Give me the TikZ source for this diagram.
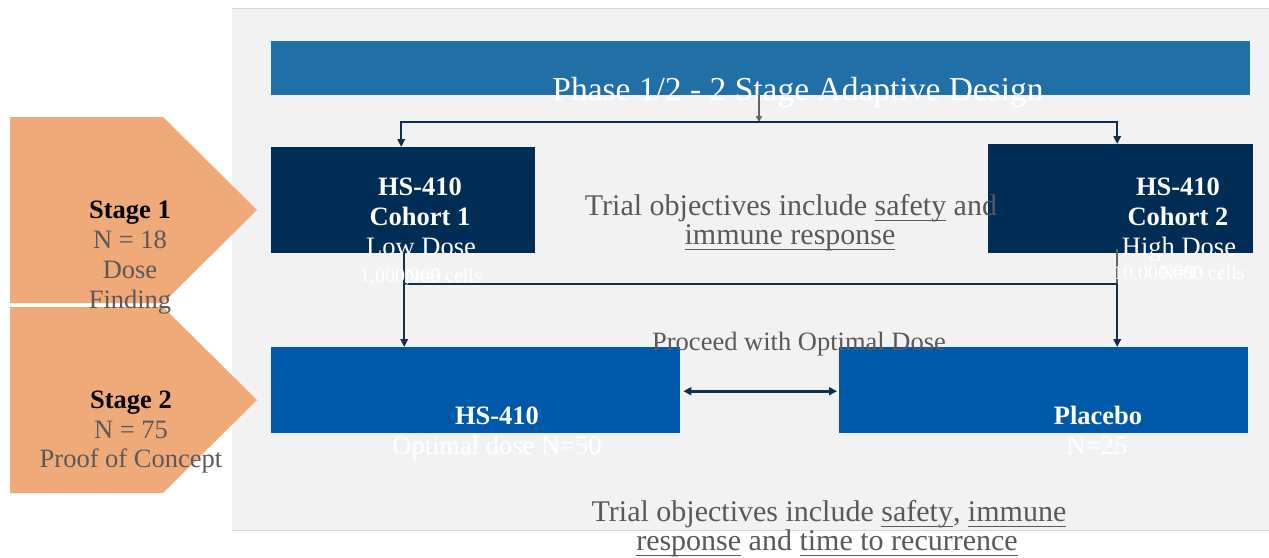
\documentclass[tikz,border=0pt]{standalone}
\usepackage{fontspec}
\setmainfont{Liberation Serif}
\usetikzlibrary{arrows.meta}
\definecolor{panelbg}{RGB}{242,242,242}
\definecolor{panelline}{RGB}{215,215,215}
\definecolor{titleblue}{RGB}{33,111,167}
\definecolor{cohortnavy}{RGB}{0,45,86}
\definecolor{armblue}{RGB}{0,89,168}
\definecolor{stageorange}{RGB}{240,170,122}
\definecolor{txtgray}{RGB}{89,89,89}
\definecolor{lineNavy}{RGB}{16,48,80}
\definecolor{lineGray}{RGB}{100,100,90}
\newcommand\myul[1]{\setbox0\hbox{#1}\rlap{\raisebox{-6pt}{\rule{\wd0}{1.3pt}}}\box0\relax}
\tikzset{
  box/.style={draw=none, inner sep=0pt, anchor=north west},
  conn/.style={draw=lineNavy, line width=2.4pt},
  arr/.style={conn, -{Triangle[length=8pt,width=7.5pt]}},
  wt/.style={text=white, anchor=base, inner sep=0pt},
  gt/.style={text=txtgray, anchor=base, inner sep=0pt},
  bt/.style={text=black, anchor=base, inner sep=0pt},
  f26/.style={font=\fontsize{26.5}{30}\selectfont},
  f26b/.style={font=\fontsize{26.5}{30}\selectfont\bfseries},
  f30/.style={font=\fontsize{30}{30}\selectfont},
  f20/.style={font=\fontsize{20}{24}\selectfont},
}
\begin{document}
\begin{tikzpicture}[x=1pt,y=-1pt]
\useasboundingbox (0,0) rectangle (1269,557);
\fill[white] (0,0) rectangle (1269,557);
% panel
\fill[panelbg] (232,8) rectangle (1269,530);
\draw[panelline, line width=0.8pt] (232,8) -- (1269,8);
\draw[panelline, line width=0.8pt] (232,530) -- (1269,530);
% stage pentagons
\fill[stageorange] (10,117) -- (163,117) -- (257,210) -- (163,303) -- (10,303) -- cycle;
\fill[stageorange] (10,307) -- (163,307) -- (257,400) -- (163,493) -- (10,493) -- cycle;
\node[bt, f26b] (st1a) at (130,218) {Stage 1};
\node[gt, f26] (st1b) at (130,248) {N = 18};
\node[gt, f26] (st1c) at (130,278) {Dose};
\node[gt, f26] (st1d) at (130,308) {Finding};
\node[bt, f26b] (st2a) at (131,408) {Stage 2};
\node[gt, f26] (st2b) at (131,438) {N = 75};
\node[gt, f26] (st2c) at (131,467) {Proof of Concept};
% title bar
\node[box, fill=titleblue, minimum width=979pt, minimum height=54pt] (title) at (271,41) {};
\node[wt, font=\fontsize{33.5}{36}\selectfont] (titletext) at (798,100) {Phase 1/2 - 2 Stage Adaptive Design};
% cohort boxes
\node[box, fill=cohortnavy, minimum width=264pt, minimum height=106pt] (c1) at (271,147) {};
\node[box, fill=cohortnavy, minimum width=265pt, minimum height=109pt] (c2) at (988,144) {};
% stage 2 boxes
\node[box, fill=armblue, minimum width=409pt, minimum height=86pt] (arm) at (271,347) {};
\node[box, fill=armblue, minimum width=409pt, minimum height=86pt] (plc) at (839,347) {};
% connectors
\coordinate (split) at (759,122);
\coordinate (join) at (760,284);
\draw[draw=lineGray, line width=1.6pt, -{Triangle[length=6pt,width=6pt]}] (split |- title.south) -- (split);
\draw[arr] (split) -| ([xshift=-2pt]c1.north);
\draw[arr] (split) -| ([xshift=-3.5pt]c2.north);
\draw[arr] ([xshift=1pt]c1.south) -- ([xshift=1pt]c1.south |- arm.north);
\draw[draw=lineGray, line width=1.6pt] ([xshift=-3.5pt,yshift=4pt]c2.south) -- ([xshift=-3.5pt]c2.south |- join);
\draw[conn] ([xshift=1pt]c1.south |- join) -- ([xshift=-3.5pt]c2.south |- join);
\draw[arr] ([xshift=-3.5pt]c2.south |- join) -- ([xshift=-3.5pt]c2.south |- plc.north);
\draw[conn, line width=2.8pt, {Triangle[length=8pt,width=8pt]}-{Triangle[length=8pt,width=8pt]}] ([xshift=3pt,yshift=-1pt]arm.east) -- ([xshift=-2pt,yshift=-1pt]plc.west);
% cohort texts
\node[wt, f26b] (c1a) at (420,195) {HS-410};
\node[wt, f26b] (c1b) at (420,225) {Cohort 1};
\node[wt, f26] (c1c) at (421,255) {Low Dose};
\node[wt, f20] (c1d) at (421,282) {1,000,000 cells};
\node[wt, f20] (c1e) at (423,282) {N=9};
\node[wt, f26b] (c2a) at (1178,195) {HS-410};
\node[wt, f26b] (c2b) at (1178,225) {Cohort 2};
\node[wt, f26] (c2c) at (1179,255) {High Dose};
\node[wt, f20] (c2d) at (1179,279) {10,000,000 cells};
\node[wt, f20] (c2e) at (1178,279) {N=9};
% stage 2 texts
\node[wt, f26b] (arma) at (497,424) {HS-410};
\node[wt, f26] (armb) at (497,454) {Optimal dose N=50};
\node[wt, f26b] (plca) at (1098,424) {Placebo};
\node[wt, f26] (plcb) at (1097,454) {N=25};
\node[gt, f26] (proceed) at (799,350) {Proceed with Optimal Dose};
% objectives
\node[gt, f30] (obj1a) at (791,215) {Trial objectives include \myul{safety} and};
\node[gt, f30] (obj1b) at (790,244) {\myul{immune response}};
\node[gt, f30] (obj2a) at (829,521) {Trial objectives include \myul{safety}, \myul{immune}};
\node[gt, f30] (obj2b) at (827,550) {\myul{response} and \myul{time to recurrence}};
\end{tikzpicture}
\end{document}
